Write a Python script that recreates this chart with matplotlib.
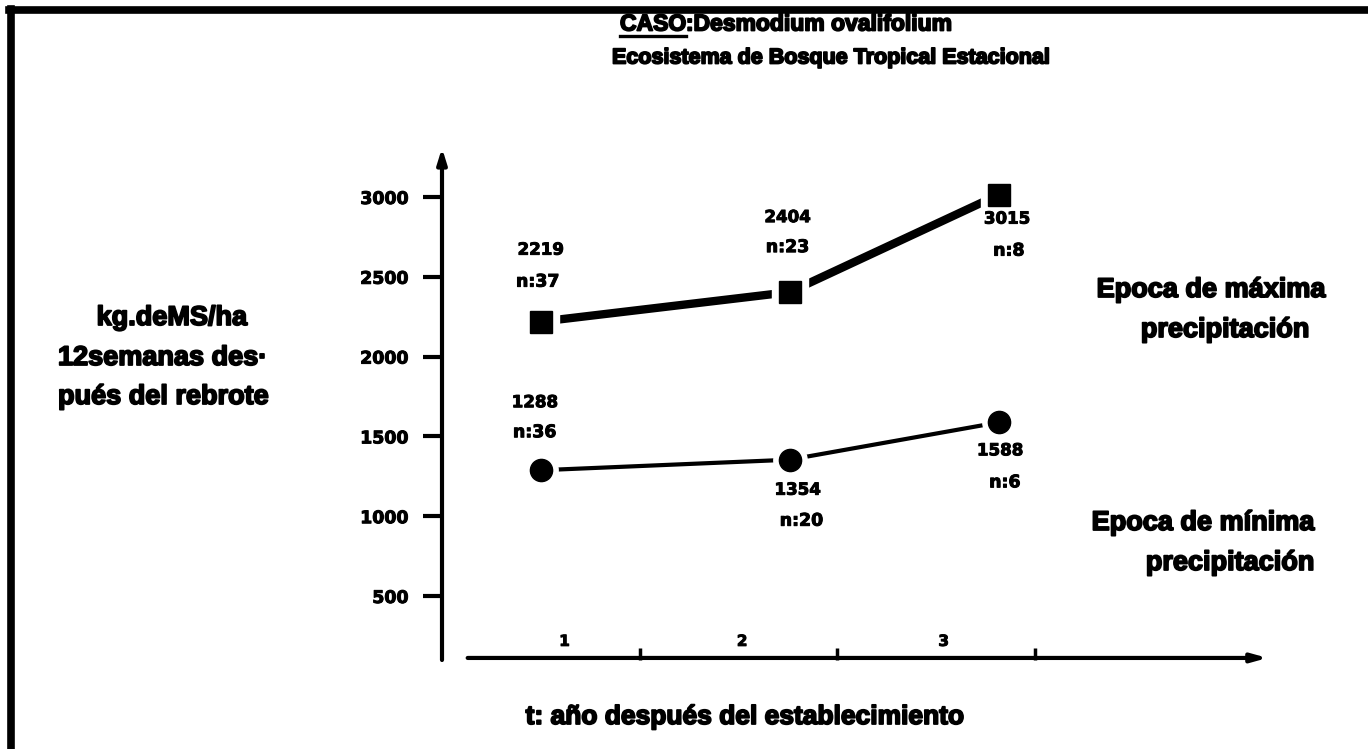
import matplotlib
matplotlib.use("Agg")
import matplotlib.pyplot as plt
from matplotlib.lines import Line2D
import matplotlib.patheffects as pe

# --- data ---------------------------------------------------------------
year_pos = [0.50, 1.76, 2.82]          # position of each sample along the time axis
year_labels = ["1", "2", "3"]
year_label_pos = [0.62, 1.52, 2.54]
year_ticks = [1, 2, 3]

max_kg = [2219, 2404, 3015]            # epoca de maxima precipitacion
max_n = [37, 23, 8]
min_kg = [1288, 1354, 1588]            # epoca de minima precipitacion
min_n = [36, 20, 6]

y_ticks = [500, 1000, 1500, 2000, 2500, 3000]

# label offsets (px) relative to each marker: (dx_val, dy_val, dx_n, dy_n)
max_offsets = [(0, -72, -3, -40), (-2, -75, -2, -45), (8, 24, 10, 56)]
min_offsets = [(-6, -68, -6, -38), (8, 30, 12, 61), (1, 28, 6, 60)]

W, H = 1368, 749
BOLD = "Liberation Sans"
NUM = "DejaVu Sans"
heavy = [pe.withStroke(linewidth=1.3, foreground="black")]
heavy_num = [pe.withStroke(linewidth=0.7, foreground="black")]

fig = plt.figure(figsize=(W / 100, H / 100), dpi=100)
fig.patch.set_facecolor("white")

# axes area in pixels: x from 442 to 1271, y from 148 (top) to 660 (bottom)
ax = fig.add_axes([442 / W, 1 - 660 / H, 829.5 / W, 512 / H])
ax.set_xlim(0, 4.2)
ax.set_ylim(99, 3307)
ax.patch.set_alpha(0)
for s in ax.spines.values():
    s.set_visible(False)

# y axis with arrow
ax.annotate("", xy=(0, 1), xytext=(0, 0), xycoords="axes fraction",
            arrowprops=dict(arrowstyle="-|>,head_length=0.9,head_width=0.28",
                            lw=3, color="black", shrinkA=0, shrinkB=0))
# x axis with arrow
ax.annotate("", xy=(4.18, 0.004), xytext=(0.13, 0.004),
            xycoords=("data", "axes fraction"),
            arrowprops=dict(arrowstyle="-|>,head_length=0.9,head_width=0.25",
                            lw=3, color="black", shrinkA=0, shrinkB=0))

ax.set_yticks(y_ticks)
ax.set_yticklabels([str(v) for v in y_ticks], fontfamily=NUM,
                   fontweight="bold", fontsize=12.5)
for t in ax.get_yticklabels():
    t.set_path_effects(heavy_num)
ax.tick_params(axis="y", length=14, width=3, pad=10, direction="out")
ax.set_xticks(year_ticks)
ax.set_xticklabels([])
ax.tick_params(axis="x", length=9, width=2.5, direction="in")

for xp, lab in zip(year_label_pos, year_labels):
    ax.annotate(lab, xy=(xp, 0), xycoords=("data", "axes fraction"),
                xytext=(0, 8), textcoords="offset points", ha="center",
                va="bottom", fontfamily=NUM, fontweight="bold", fontsize=11,
                path_effects=heavy_num)

# series: line, white halo around markers, then marker
ax.plot(year_pos, max_kg, color="black", lw=6, solid_capstyle="round", zorder=2)
ax.plot(year_pos, max_kg, ls="none", marker="s", ms=26, color="white", zorder=3)
ax.plot(year_pos, max_kg, ls="none", marker="s", ms=16, color="black", zorder=4)

ax.plot(year_pos, min_kg, color="black", lw=3, solid_capstyle="round", zorder=2)
ax.plot(year_pos, min_kg, ls="none", marker="o", ms=24, color="white", zorder=3)
ax.plot(year_pos, min_kg, ls="none", marker="o", ms=16, color="black", zorder=4)


def point_labels(vals, ns, offsets):
    for xp, v, n, (dxv, dyv, dxn, dyn) in zip(year_pos, vals, ns, offsets):
        ax.annotate(str(v), xy=(xp, v), xytext=(dxv * 0.72, -dyv * 0.72),
                    textcoords="offset points", ha="center", va="center",
                    fontfamily=NUM, fontweight="bold", fontsize=12,
                    path_effects=heavy_num)
        ax.annotate("n:%d" % n, xy=(xp, v), xytext=(dxn * 0.72, -dyn * 0.72),
                    textcoords="offset points", ha="center", va="center",
                    fontfamily=NUM, fontweight="bold", fontsize=12.5,
                    path_effects=heavy_num)


point_labels(max_kg, max_n, max_offsets)
point_labels(min_kg, min_n, min_offsets)


def fx(px):
    return px / W


def fy(py):
    return 1 - py / H


# titles
title = dict(fontfamily=BOLD, fontweight="bold", va="center", ha="left",
             path_effects=heavy)
caso = fig.text(fx(620), fy(24), "CASO", fontsize=16.5, **title)
renderer = fig.canvas.get_renderer()
bb = caso.get_window_extent(renderer)
fig.text(bb.x1 / W, fy(24), ":Desmodium ovalifolium", fontsize=16.5, **title)
fig.add_artist(Line2D([bb.x0 / W, bb.x1 / W], [fy(36), fy(36)], lw=2.4,
                      color="black", transform=fig.transFigure))
fig.text(fx(612), fy(58), "Ecosistema de Bosque Tropical Estacional",
         fontsize=15.5, **title)

# y label block
side = dict(fontfamily=BOLD, fontweight="bold", fontsize=19.5, va="center",
            path_effects=heavy)
fig.text(fx(172), fy(318), "kg.deMS/ha", ha="center", **side)
fig.text(fx(58), fy(358), "12semanas des·", ha="left", **side)
fig.text(fx(58), fy(397), "pués del rebrote", ha="left", **side)

# series captions on the right
fig.text(fx(1211), fy(290), "Epoca de máxima", ha="center", **side)
fig.text(fx(1225), fy(330), "precipitación", ha="center", **side)
fig.text(fx(1203), fy(523), "Epoca de mínima", ha="center", **side)
fig.text(fx(1230), fy(563), "precipitación", ha="center", **side)

# x label
fig.text(fx(745), fy(717), "t: año después del establecimiento", ha="center",
         **dict(side, fontsize=19))

# frame lines along the left and top edges
fig.add_artist(Line2D([fx(11), fx(11)], [fy(9), 0], lw=5.5, color="black",
                      transform=fig.transFigure, solid_capstyle="projecting"))
fig.add_artist(Line2D([fx(9), 1], [fy(10), fy(10)], lw=5.5, color="black",
                      transform=fig.transFigure, solid_capstyle="projecting"))

fig.savefig("out.png", dpi=100, facecolor="white")
